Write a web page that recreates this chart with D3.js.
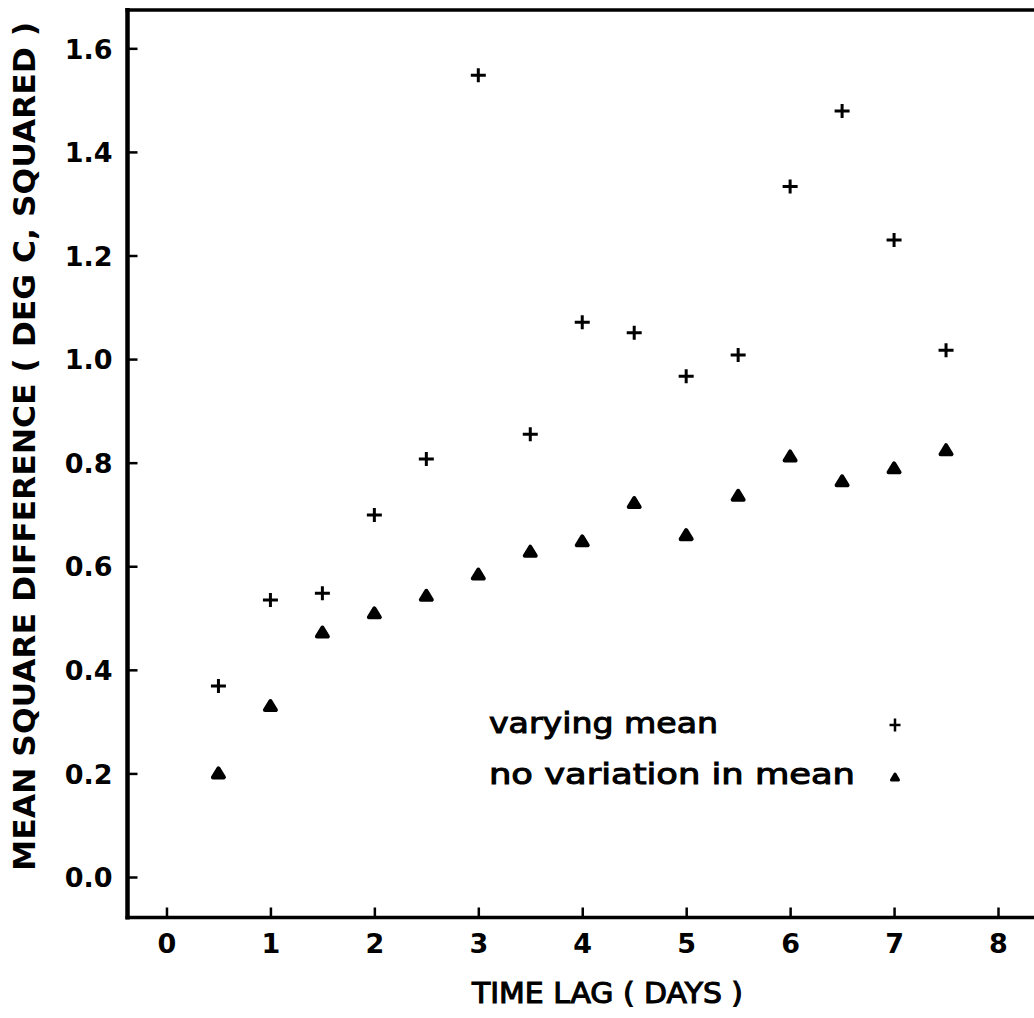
<!DOCTYPE html>
<html>
<head>
<meta charset="utf-8">
<script src="https://cdn.jsdelivr.net/npm/d3@7"></script>
<style>
  html, body { margin: 0; padding: 0; background: #fff; }
  svg { display: block; }
  text { font-family: "DejaVu Sans", sans-serif; fill: #000; }
</style>
</head>
<body>
<script>
// Time lags (days) at which the mean square difference was computed
const lags = [0.5, 1, 1.5, 2, 2.5, 3, 3.5, 4, 4.5, 5, 5.5, 6, 6.5, 7, 7.5];

// Mean square difference (deg C squared), mean allowed to vary
const varyingMean = [0.369, 0.535, 0.548, 0.699, 0.807, 1.548, 0.855, 1.071, 1.051, 0.967, 1.008, 1.333, 1.479, 1.230, 1.017];

// Mean square difference (deg C squared), mean held fixed
const fixedMean = [0.201, 0.331, 0.473, 0.510, 0.544, 0.585, 0.629, 0.649, 0.723, 0.661, 0.737, 0.813, 0.765, 0.790, 0.825];

const xTicks = [0, 1, 2, 3, 4, 5, 6, 7, 8];
const yTicks = [0.0, 0.2, 0.4, 0.6, 0.8, 1.0, 1.2, 1.4, 1.6];

const legendLabels = ["varying mean", "no variation in mean"];

const W = 1034, H = 1018;
const plotLeft = 127.5, plotRight = 1040, plotTop = 10, plotBottom = 917.5;

const svg = d3.select("body").append("svg")
  .attr("width", W).attr("height", H);

const x = d3.scaleLinear().domain([-0.375, 8.404]).range([plotLeft, plotRight]);
const y = d3.scaleLinear().domain([-0.0782, 1.6740]).range([plotBottom, plotTop]);

// Frame: left axis, bottom axis, top border
const frame = svg.append("g").attr("stroke", "#000").attr("fill", "none");
frame.append("line").attr("x1", plotLeft).attr("x2", plotLeft).attr("y1", plotTop - 2).attr("y2", plotBottom + 2).attr("stroke-width", 4.5);
frame.append("line").attr("x1", plotLeft - 2).attr("x2", plotRight).attr("y1", plotBottom).attr("y2", plotBottom).attr("stroke-width", 3.5);
frame.append("line").attr("x1", plotLeft - 2).attr("x2", plotRight).attr("y1", plotTop).attr("y2", plotTop).attr("stroke-width", 3.5);

// X axis: inward ticks, labels below
const xAxis = d3.axisBottom(x).tickValues(xTicks).tickSize(-10).tickPadding(0).tickFormat(d3.format("d"));
const gx = svg.append("g").attr("transform", `translate(0,${plotBottom})`).call(xAxis);
gx.select(".domain").remove();
gx.selectAll(".tick line").attr("stroke", "#000").attr("stroke-width", 2.5);
gx.selectAll(".tick text")
  .attr("y", 35).attr("dy", 0)
  .style("font-family", "DejaVu Sans").style("font-size", "27px").style("font-weight", "bold");

// Y axis: inward ticks, labels left
const yAxis = d3.axisLeft(y).tickValues(yTicks).tickSize(-10).tickPadding(0).tickFormat(d3.format(".1f"));
const gy = svg.append("g").attr("transform", `translate(${plotLeft},0)`).call(yAxis);
gy.select(".domain").remove();
gy.selectAll(".tick line").attr("stroke", "#000").attr("stroke-width", 2.5);
gy.selectAll(".tick text")
  .attr("x", -15).attr("dy", "0.36em")
  .style("font-family", "DejaVu Sans").style("font-size", "27px").style("font-weight", "bold");

// Axis titles
svg.append("text")
  .attr("x", 472).attr("y", 1003)
  .attr("textLength", 271).attr("lengthAdjust", "spacingAndGlyphs")
  .style("font-size", "28px").style("stroke", "#000").style("stroke-width", 1.1)
  .text("TIME LAG ( DAYS )");

svg.append("text")
  .attr("transform", "translate(35,871) rotate(-90)")
  .attr("x", 0).attr("y", 0)
  .attr("textLength", 849).attr("lengthAdjust", "spacingAndGlyphs")
  .style("font-size", "31px").style("font-weight", "bold").style("font-stretch", "condensed")
  .text("MEAN SQUARE DIFFERENCE ( DEG C, SQUARED )");

// Marker shapes
function plusPath(w, h) {
  return `M${-w / 2},0H${w / 2}M0,${-h / 2}V${h / 2}`;
}
function triPath(w, h) {
  return `M0,${-h / 2}L${w / 2},${h / 2}L${-w / 2},${h / 2}Z`;
}

const varyingData = lags.map((d, i) => ({ lag: d, v: varyingMean[i] }));
const fixedData = lags.map((d, i) => ({ lag: d, v: fixedMean[i] }));

svg.append("g").selectAll("path").data(varyingData).join("path")
  .attr("transform", d => `translate(${x(d.lag)},${y(d.v)})`)
  .attr("d", plusPath(15, 14))
  .attr("stroke", "#000").attr("stroke-width", 3).attr("fill", "none");

svg.append("g").selectAll("path").data(fixedData).join("path")
  .attr("transform", d => `translate(${x(d.lag)},${y(d.v)})`)
  .attr("d", triPath(11, 9))
  .attr("stroke", "#000").attr("stroke-width", 4).attr("stroke-linejoin", "round").attr("fill", "#000");

// Legend
const legend = svg.append("g");
legend.append("text")
  .attr("x", 489).attr("y", 733)
  .attr("textLength", 229).attr("lengthAdjust", "spacingAndGlyphs")
  .style("font-size", "28px").style("stroke", "#000").style("stroke-width", 1)
  .text(legendLabels[0]);
legend.append("text")
  .attr("x", 489).attr("y", 784)
  .attr("textLength", 366).attr("lengthAdjust", "spacingAndGlyphs")
  .style("font-size", "28px").style("stroke", "#000").style("stroke-width", 1)
  .text(legendLabels[1]);
legend.append("path")
  .attr("transform", "translate(895,725)")
  .attr("d", plusPath(11, 13))
  .attr("stroke", "#000").attr("stroke-width", 2.5).attr("fill", "none");
legend.append("path")
  .attr("transform", "translate(895,777)")
  .attr("d", triPath(7, 6))
  .attr("stroke", "#000").attr("stroke-width", 3).attr("stroke-linejoin", "round").attr("fill", "#000");
</script>
</body>
</html>
